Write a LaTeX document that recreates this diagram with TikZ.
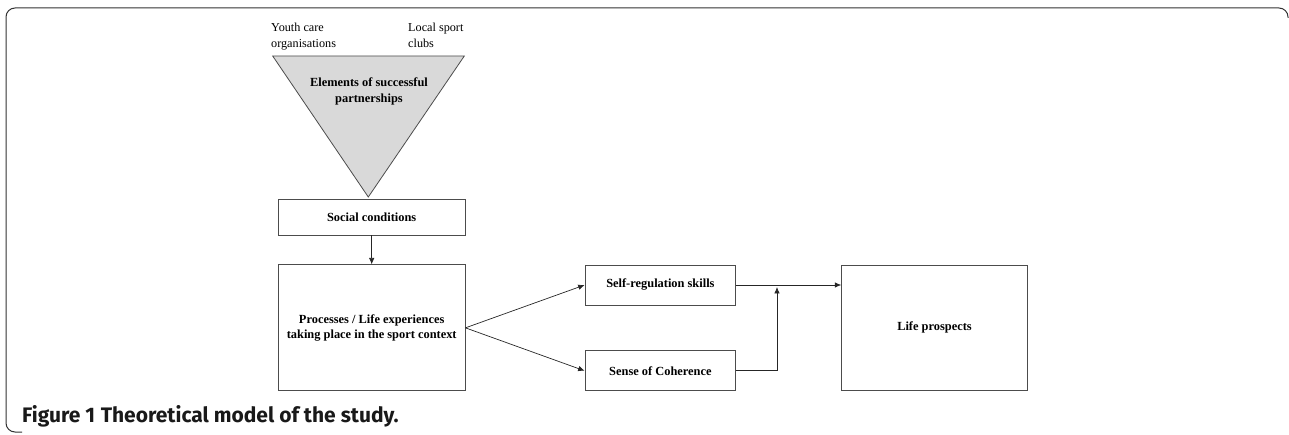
\documentclass[tikz,border=0pt]{standalone}
\usepackage{fontspec}
\setmainfont{Liberation Serif}
\newfontfamily\capfont{Fira Sans}
\usetikzlibrary{arrows.meta, positioning, calc}

\begin{document}
\begin{tikzpicture}[
    x=1pt, y=-1pt,
    box/.style={rectangle, draw=black!70, line width=0.8pt, fill=white, inner sep=0pt, text centered, align=center, font=\fontsize{12.4}{15.5}\selectfont\bfseries},
    plain/.style={inner sep=0pt, align=left, font=\fontsize{12.2}{15.5}\selectfont},
    arrow/.style={-{Latex[length=6.5pt, width=5.5pt]}, draw=black!85, line width=0.7pt}
]
\useasboundingbox (0,0) rectangle (1289,435);

% === FRAME ===
\draw [black!80, line width=1pt, rounded corners=9pt] (1288,18) -- (1288,8) -- (6,8) -- (6,432) -- (22,432);

% === PARTNERS ===
\node (youth) [plain, anchor=north west] at (271,23) {Youth care\\organisations};
\node (clubs) [plain, anchor=north west] at (408,23) {Local sport\\clubs};

\coordinate (tl) at (272.7,56);
\coordinate (tr) at (464.3,56);
\coordinate (apex) at (368.3,197);
\draw [black!70, line width=0.8pt, fill=black!15] (tl) -- (tr) -- (apex) -- cycle;
\node (elements) [box, draw=none, fill=none] at (369,91.5) {Elements of successful\\partnerships};

% === MAIN FLOW ===
\node (social) [box, minimum width=186.7pt, minimum height=35.7pt] at (371.7,217.2) {Social conditions};
\node (process) [box, minimum width=186.7pt, minimum height=126pt, below=29pt of social] {Processes / Life experiences\\taking place in the sport context};

\node (selfreg) [box, minimum width=150.7pt, minimum height=40pt] at (660.4,285) {Self-regulation skills};
\node (coherence) [box, minimum width=150.7pt, minimum height=40pt, below=45pt of selfreg] {Sense of Coherence};

\node (life) [box, minimum width=185.6pt, minimum height=125pt] at (934.5,327.5) {Life prospects};
\coordinate (join) at (777,287);

% === ARROWS ===
\draw [arrow] (social) -- (process);
\draw [arrow] (process.east) -- (selfreg.west);
\draw [arrow] (process.east) -- (coherence.west);
\draw [arrow] (selfreg.east) -- (selfreg.east -| life.west);
\draw [arrow] (coherence.east) -| (join);

% === CAPTION ===
\node (caption) [anchor=base west, inner sep=0pt, text=black!90, font=\capfont\fontsize{21}{24}\selectfont] at (22,422) {\textbf{Figure 1} \textbf{Theoretical model of the study.}};

\end{tikzpicture}
\end{document}
